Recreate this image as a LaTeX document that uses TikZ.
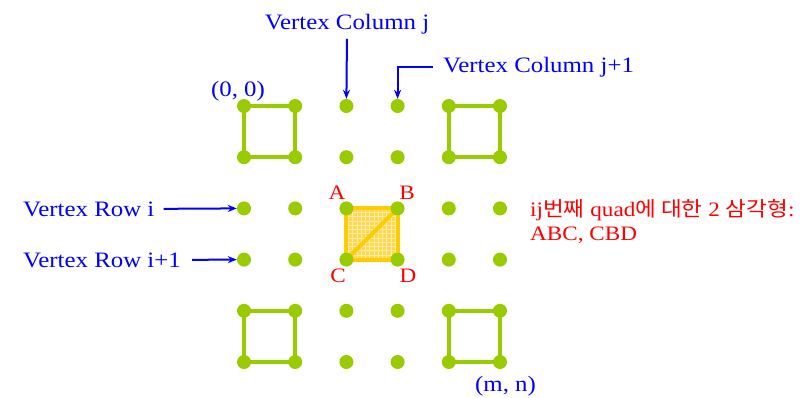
\documentclass[tikz,border=0pt]{standalone}
\usepackage{fontspec}
\setmainfont{Liberation Serif}[FakeStretch=1.13]
\newfontfamily\krfont{Noto Sans CJK KR}[FakeStretch=1.1]
\usepackage{xcolor}
\definecolor{cVert}{HTML}{99CC00}
\definecolor{cQuad}{HTML}{FFCC00}
\definecolor{cQuadFill}{HTML}{FFD84F}
\definecolor{cQuadGrid}{HTML}{FFEDA6}
\definecolor{cLabel}{HTML}{0000FF}
\definecolor{cTri}{HTML}{FF0000}
\usepackage{tikz}
\usetikzlibrary{positioning,arrows.meta,backgrounds}
\tikzset{
  node-vert/.style={circle,fill=cVert,inner sep=0pt,minimum size=14pt},
  quad-edge/.style={draw=cVert,line width=4pt},
  quad-tri/.style={draw=cQuad,line width=4pt,line join=miter},
  label-blue/.style={text=cLabel,inner sep=0pt,font=\fontsize{22}{26}\selectfont},
  label-red/.style={text=cTri,inner sep=0pt,font=\fontsize{20.5}{24}\selectfont},
  arrow/.style={-{Stealth[length=9pt,width=7pt]},line width=2pt,draw=cLabel},
}
\begin{document}
\begin{tikzpicture}[x=1pt,y=-1pt]
  \useasboundingbox (0,0) rectangle (809,397);
  % vertex grid (m x n)
  \foreach \r in {1,...,6}
    \foreach \c in {1,...,6}
      \node[node-vert] (v-\r-\c) at ({244+(\c-1)*51.2},{106+(\r-1)*51.2}) {};
  \begin{scope}[on background layer]
    \foreach \r/\c [evaluate=\r as \rr using int(\r+1),
                    evaluate=\c as \cc using int(\c+1)] in {1/1,1/5,5/1,5/5}
      \draw[quad-edge] (v-\r-\c.center) -- (v-\r-\cc.center) -- (v-\rr-\cc.center)
        -- (v-\rr-\c.center) -- cycle;
    % quad ij: triangles ABC, CBD
    \fill[cQuadFill] (v-3-3.center) rectangle (v-4-4.center);
    \draw[cQuadGrid,line width=0.8pt,step=4.25pt] (v-4-3.center) grid (v-3-4.center);
    \draw[quad-tri] (v-3-3.center) rectangle (v-4-4.center);
    \draw[quad-tri] (v-3-4.center) -- (v-4-3.center);
  \end{scope}
  \node[label-red,anchor=base] (lbl-a) at (337,199) {A};
  \node[label-red,anchor=base] (lbl-b) at (407,199) {B};
  \node[label-red,anchor=base] (lbl-c) at (338,282) {C};
  \node[label-red,anchor=base] (lbl-d) at (408,282) {D};
  \node[label-red,anchor=base west] (tri-1) at (530,216)
    {ij{\krfont 번째} quad{\krfont 에 대한} 2 {\krfont 삼각형}:};
  \node[label-red,anchor=base west] (tri-2) at (530,240) {ABC, CBD};
  \node[label-blue,anchor=base] (col-j) at (347,29) {Vertex Column j};
  \node[label-blue,anchor=base west] (col-j1) at (443,72) {Vertex Column j+1};
  \node[label-blue,anchor=base west] (row-i) at (23,216) {Vertex Row i};
  \node[label-blue,anchor=base west] (row-i1) at (23,267) {Vertex Row i+1};
  \node[label-blue,anchor=base] (origin) at (238,96) {(0, 0)};
  \node[label-blue,anchor=base west] (corner) at (475,391) {(m, n)};
  \draw[arrow,shorten <=5pt] (col-j.south) -- (v-1-3.north);
  \draw[arrow,shorten <=10pt] (col-j1.west) -| (v-1-4.north);
  \draw[arrow,shorten <=9pt] (row-i.east) -- (v-3-1.west);
  \draw[arrow,shorten <=11pt] (row-i1.east) -- (v-4-1.west);
\end{tikzpicture}
\end{document}
